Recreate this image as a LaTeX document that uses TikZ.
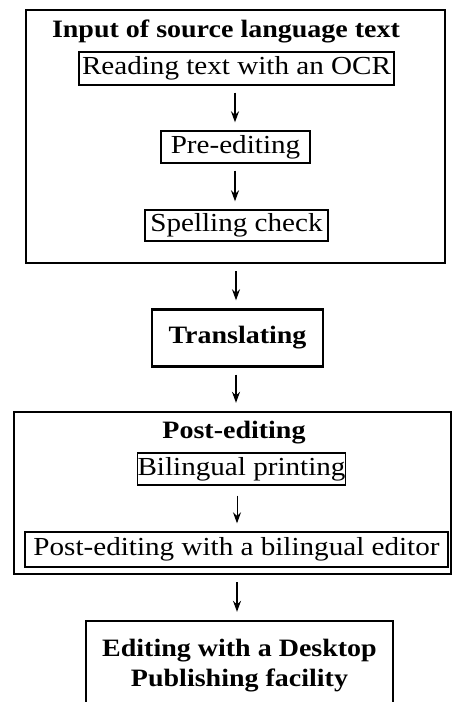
\documentclass[tikz,border=0pt]{standalone}
\usepackage{fontspec}
\setmainfont{Liberation Serif}[FakeStretch=1.12]
\usetikzlibrary{
    positioning,
    arrows.meta
}
\tikzset{
    >={Stealth[length=11pt,width=8pt]},
    outerbox/.style={
        draw,
        line width=2.4pt,
        inner sep=0pt
    },
    stepbox/.style={
        draw,
        line width=1.4pt,
        inner sep=0pt,
        font=\fontsize{26}{30}\selectfont
    },
    headtext/.style={
        inner sep=0pt,
        anchor=base,
        font=\fontsize{25}{30}\selectfont\bfseries
    },
    flow/.style={
        ->,
        line width=1.4pt,
        shorten <=7pt,
        shorten >=8pt
    }
}

\begin{document}
\begin{tikzpicture}[
    x=1pt,
    y=-1pt
]

    \clip (0,0) rectangle (454,702);

    % Entrada del texto fuente
    \node[outerbox, minimum width=419pt, minimum height=253pt] (inputbox) at (235.5,136.5) {};
    \node[headtext]                                           (inputtitle) at (226,37) {Input of source language text};
    \node[stepbox, minimum width=315pt, minimum height=33pt]  (readocr)  at (236.5,68.5)  {Reading text with an OCR};
    \node[stepbox, minimum width=149pt, minimum height=32pt]  (preedit)  at (235.5,147)   {Pre-editing};
    \node[stepbox, minimum width=183pt, minimum height=31pt]  (spellchk) at (236.5,225.5) {Spelling check};

    % Traduccion
    \node[outerbox, minimum width=171pt, minimum height=57pt,
          font=\fontsize{25}{30}\selectfont\bfseries]         (translate) at (237.5,338) {Translating};

    % Post-edicion
    \node[outerbox, minimum width=437pt, minimum height=162pt] (postbox) at (232.5,493) {};
    \node[headtext]                                            (posttitle) at (234,438) {Post-editing};
    \node[stepbox, minimum width=203pt, minimum height=32pt]   (biprint) at (241.5,469)  {Bilingual printing};
    \node[stepbox, minimum width=423pt, minimum height=35pt]   (biedit)  at (236.5,549.5) {Post-editing with a bilingual editor};

    % Autoedicion
    \node[outerbox, minimum width=307pt, minimum height=120pt] (dtp) at (239.5,681) {};
    \node[headtext] (dtpone) at (239.5,656) {Editing with a Desktop};
    \node[headtext] (dtptwo) at (239.5,686) {Publishing facility};

    % Flechas
    \draw[flow] (readocr.south -| 235,0)  -- (preedit.north -| 235,0);
    \draw[flow] (preedit.south -| 235,0)  -- (spellchk.north -| 235,0);
    \draw[flow] (inputbox.south -| 236,0) -- (translate.north -| 236,0);
    \draw[flow] (translate.south -| 236,0) -- (postbox.north -| 236,0);
    \draw[flow, line width=1pt, shorten <=10pt] (biprint.south -| 237,0) -- (biedit.north -| 237,0);
    \draw[flow] (postbox.south -| 237,0)  -- (dtp.north -| 237,0);

\end{tikzpicture}
\end{document}
